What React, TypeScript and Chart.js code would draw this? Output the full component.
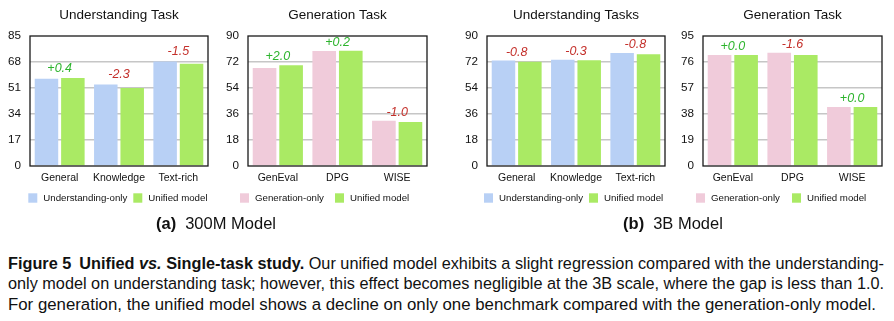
import React, { useEffect, useLayoutEffect, useRef } from 'react';
import { Chart, registerables } from 'chart.js';

Chart.register(...registerables);

// ---------- data ----------
const understandingCategories = ['General', 'Knowledge', 'Text-rich'];
const generationCategories = ['GenEval', 'DPG', 'WISE'];

const und300mOnly = [57.1, 53.3, 68.3];
const und300mUnified = [57.5, 51.0, 66.8];
const und300mDiffs = ['+0.4', '-2.3', '-1.5'];
const und300mTicks = [0, 17, 34, 51, 68, 85];

const gen300mOnly = [67.8, 79.6, 31.4];
const gen300mUnified = [69.8, 79.8, 30.4];
const gen300mDiffs = ['+2.0', '+0.2', '-1.0'];
const gen300mTicks = [0, 18, 36, 54, 72, 90];

const und3bOnly = [73.0, 73.5, 78.2];
const und3bUnified = [72.2, 73.2, 77.4];
const und3bDiffs = ['-0.8', '-0.3', '-0.8'];
const und3bTicks = [0, 18, 36, 54, 72, 90];

const gen3bOnly = [81.1, 82.7, 43.1];
const gen3bUnified = [81.1, 81.1, 43.1];
const gen3bDiffs = ['+0.0', '-1.6', '+0.0'];
const gen3bTicks = [0, 19, 38, 57, 76, 95];

// ---------- styles ----------
const FONT = "'Liberation Sans', Arial, Helvetica, sans-serif";
const BLUE = '#b8d0f5';
const PINK = '#f0cbda';
const GREEN = '#aaea64';
const TEXT_GREEN = '#2db42d';
const TEXT_RED = '#c4302b';
const INK = '#111111';

type Panel = {
  left: number;
  width: number;
  axisWidth: number;
  padRight: number;
  title: string;
  categories: string[];
  single: number[];
  unified: number[];
  diffs: string[];
  ticks: number[];
  singleLabel: string;
  singleColor: string;
  legendShift: number;
  legendSecond: number;
  labelOffset: number;
};

const CANVAS_H = 215;
const PLOT_TOP = 36;
const PLOT_BOTTOM = 166;
const XAXIS_H = 24;

const panels: Panel[] = [
  {
    left: 0, width: 215, axisWidth: 30, padRight: 7,
    title: 'Understanding Task', categories: understandingCategories,
    single: und300mOnly, unified: und300mUnified, diffs: und300mDiffs, ticks: und300mTicks,
    singleLabel: 'Understanding-only', singleColor: BLUE,
    legendShift: -1.7, legendSecond: 105, labelOffset: 10,
  },
  {
    left: 215, width: 230, axisWidth: 33, padRight: 18,
    title: 'Generation Task', categories: generationCategories,
    single: gen300mOnly, unified: gen300mUnified, diffs: gen300mDiffs, ticks: gen300mTicks,
    singleLabel: 'Generation-only', singleColor: PINK,
    legendShift: -8, legendSecond: 95, labelOffset: 8.5,
  },
  {
    left: 445, width: 225, axisWidth: 42, padRight: 5,
    title: 'Understanding Tasks', categories: understandingCategories,
    single: und3bOnly, unified: und3bUnified, diffs: und3bDiffs, ticks: und3bTicks,
    singleLabel: 'Understanding-only', singleColor: BLUE,
    legendShift: -3, legendSecond: 105, labelOffset: 8.5,
  },
  {
    left: 670, width: 224, axisWidth: 33, padRight: 12,
    title: 'Generation Task', categories: generationCategories,
    single: gen3bOnly, unified: gen3bUnified, diffs: gen3bDiffs, ticks: gen3bTicks,
    singleLabel: 'Generation-only', singleColor: PINK,
    legendShift: -7, legendSecond: 96, labelOffset: 8.5,
  },
];

function BarPanel({ p }: { p: Panel }) {
  const ref = useRef<HTMLCanvasElement>(null);
  useEffect(() => {
    const canvas = ref.current!;
    const minV = p.ticks[0];
    const maxV = p.ticks[p.ticks.length - 1];
    const decor = {
      id: 'panelDecor',
      afterDatasetsDraw(chart: any) {
        const { ctx, chartArea: a } = chart;
        ctx.save();
        ctx.strokeStyle = '#1a1a1a';
        ctx.lineWidth = 1.3;
        ctx.strokeRect(a.left, a.top, a.right - a.left, a.bottom - a.top);

        const m0 = chart.getDatasetMeta(0);
        const m1 = chart.getDatasetMeta(1);
        ctx.font = `italic 12.5px ${FONT}`;
        ctx.textAlign = 'center';
        ctx.textBaseline = 'middle';
        p.diffs.forEach((t, i) => {
          const b0 = m0.data[i];
          const b1 = m1.data[i];
          const x = (b0.x + b1.x) / 2;
          const y = Math.min(b0.y, b1.y) - p.labelOffset;
          ctx.fillStyle = t.startsWith('+') ? TEXT_GREEN : TEXT_RED;
          ctx.fillText(t, x, y);
        });

        ctx.fillStyle = INK;
        ctx.font = `13.5px ${FONT}`;
        ctx.fillText(p.title, (a.left + a.right) / 2, 15);

        const items = [
          { label: p.singleLabel, color: p.singleColor },
          { label: 'Unified model', color: GREEN },
        ];
        ctx.font = `9.7px ${FONT}`;
        ctx.textAlign = 'left';
        items.forEach((it, k) => {
          const x = a.left + p.legendShift + k * p.legendSecond;
          ctx.fillStyle = it.color;
          ctx.fillRect(x, 193.3, 9, 9.4);
          ctx.fillStyle = INK;
          ctx.fillText(it.label, x + 15, 198);
        });
        ctx.restore();
      },
    };

    const chart = new Chart(canvas, {
      type: 'bar',
      data: {
        labels: p.categories,
        datasets: [
          { label: p.singleLabel, data: p.single, backgroundColor: p.singleColor, borderWidth: 0 },
          { label: 'Unified model', data: p.unified, backgroundColor: GREEN, borderWidth: 0 },
        ],
      },
      options: {
        responsive: false,
        animation: false,
        devicePixelRatio: 1,
        layout: {
          padding: {
            left: 0,
            right: p.padRight,
            top: PLOT_TOP,
            bottom: CANVAS_H - PLOT_BOTTOM - XAXIS_H,
          },
        },
        datasets: {
          bar: { categoryPercentage: 0.89, barPercentage: 0.89 },
        },
        plugins: {
          legend: { display: false },
          title: { display: false },
          tooltip: { enabled: false },
        },
        scales: {
          x: {
            grid: { display: false, drawTicks: false },
            border: { display: false },
            ticks: { color: INK, font: { family: FONT, size: 10.5 }, padding: 6, maxRotation: 0 },
            afterFit: (s: any) => { s.height = XAXIS_H; },
          },
          y: {
            min: minV,
            max: maxV,
            afterBuildTicks: (s: any) => { s.ticks = p.ticks.map((v) => ({ value: v })); },
            afterFit: (s: any) => { s.width = p.axisWidth; },
            grid: {
              drawTicks: false,
              lineWidth: 1.5,
              color: (c: any) =>
                c.tick && (c.tick.value === minV || c.tick.value === maxV) ? 'rgba(0,0,0,0)' : '#c6c6c6',
            },
            border: { display: false },
            ticks: { color: INK, font: { family: FONT, size: 11.7 }, padding: 9 },
          },
        },
      },
      plugins: [decor],
    });
    return () => chart.destroy();
  }, [p]);

  return (
    <div style={{ position: 'absolute', left: p.left, top: 0, width: p.width, height: CANVAS_H }}>
      <canvas ref={ref} width={p.width} height={CANVAS_H} style={{ width: p.width, height: CANVAS_H, display: 'block' }} />
    </div>
  );
}

function FitLine({ top, target, children }: { top: number; target: number; children: React.ReactNode }) {
  const ref = useRef<HTMLSpanElement>(null);
  useLayoutEffect(() => {
    const el = ref.current!;
    el.style.transform = 'none';
    const w = el.getBoundingClientRect().width;
    if (w > 0) el.style.transform = `scaleX(${target / w})`;
  }, [target]);
  return (
    <div style={{ position: 'absolute', left: 8, top, height: 21, lineHeight: '21px', whiteSpace: 'nowrap' }}>
      <span ref={ref} style={{ display: 'inline-block', transformOrigin: '0 0' }}>{children}</span>
    </div>
  );
}

function SubCaption({ center, tag, text }: { center: number; tag: string; text: string }) {
  return (
    <div
      style={{
        position: 'absolute', left: center - 150, width: 300, top: 212, height: 22,
        lineHeight: '22px', textAlign: 'center', fontSize: 16.5, color: INK, whiteSpace: 'nowrap',
      }}
    >
      <b>{tag}</b>
      <span style={{ marginLeft: 9 }}>{text}</span>
    </div>
  );
}

export default function App() {
  return (
    <div
      style={{
        position: 'fixed', left: 0, top: 0, width: 894, height: 321, background: '#ffffff',
        overflow: 'hidden', fontFamily: FONT, color: INK,
      }}
    >
      {panels.map((p, i) => (
        <BarPanel key={i} p={p} />
      ))}
      <SubCaption center={216} tag="(a)" text="300M Model" />
      <SubCaption center={673} tag="(b)" text="3B Model" />
      <div style={{ fontSize: 16.3 }}>
        <FitLine top={252.5} target={876}>
          <b>Figure 5</b>
          <b style={{ marginLeft: 8 }}>
            Unified <i>vs.</i> Single-task study.
          </b>{' '}
          Our unified model exhibits a slight regression compared with the understanding-
        </FitLine>
        <FitLine top={273.3} target={876}>
          only model on understanding task; however, this effect becomes negligible at the 3B scale, where the gap is less than 1.0.
        </FitLine>
        <FitLine top={294} target={868}>
          For generation, the unified model shows a decline on only one benchmark compared with the generation-only model.
        </FitLine>
      </div>
    </div>
  );
}
